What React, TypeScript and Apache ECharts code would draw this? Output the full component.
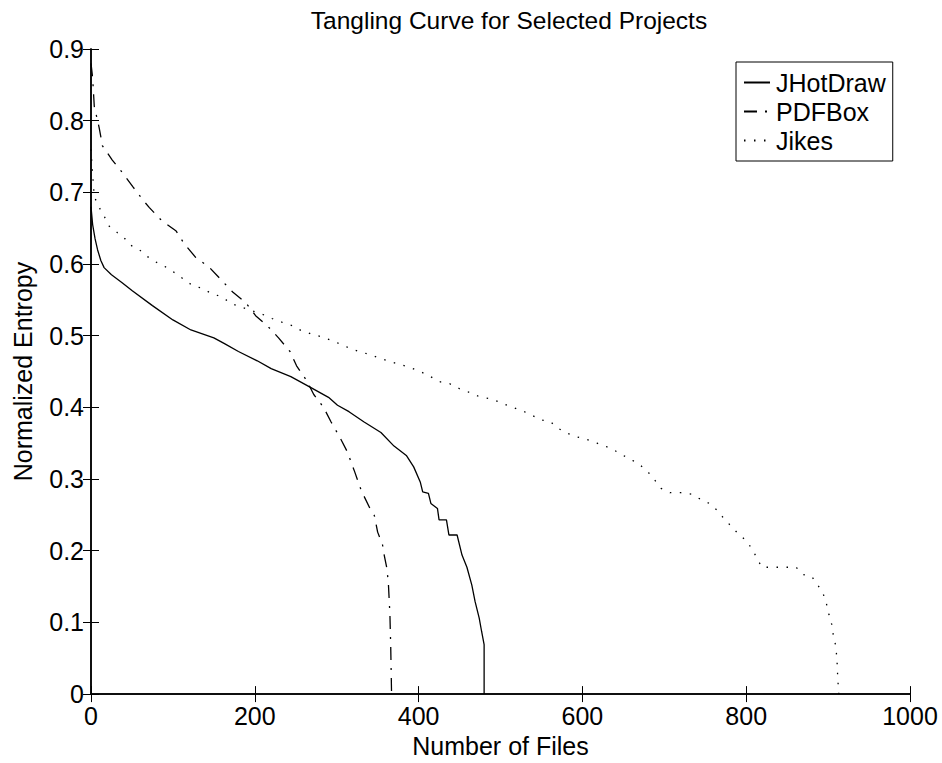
import React, { useEffect, useRef } from "react";
import * as echarts from "echarts";

const seriesNames = ["JHotDraw", "PDFBox", "Jikes"];

const jhotdraw: number[][] = [
  [0, 0.68], [2, 0.655], [5, 0.635], [8, 0.62], [12, 0.605], [16, 0.595], [25, 0.585],
  [38, 0.574], [50, 0.563], [75, 0.542], [100, 0.522], [122, 0.508], [150, 0.497],
  [163, 0.489], [180, 0.478], [203, 0.465], [220, 0.454], [244, 0.443], [268, 0.428],
  [290, 0.414], [301, 0.403], [315, 0.394], [333, 0.38], [354, 0.365], [370, 0.346],
  [385, 0.333], [394, 0.317], [402, 0.296], [405, 0.282], [412, 0.28], [415, 0.266],
  [423, 0.259], [425, 0.243], [434, 0.243], [437, 0.222], [447, 0.222], [453, 0.194],
  [459, 0.177], [465, 0.152], [469, 0.129], [474, 0.106], [477, 0.087], [480, 0.069],
  [480, 0],
];

const pdfbox: number[][] = [
  [0, 0.88], [2, 0.86], [4, 0.82], [10, 0.79], [14, 0.765], [26, 0.745], [38, 0.728],
  [51, 0.708], [63, 0.69], [71, 0.679], [86, 0.661], [104, 0.646], [114, 0.628],
  [128, 0.609], [144, 0.596], [158, 0.579], [173, 0.561], [189, 0.546], [201, 0.528],
  [216, 0.513], [229, 0.497], [243, 0.478], [251, 0.458], [263, 0.438], [272, 0.418],
  [284, 0.4], [293, 0.38], [303, 0.36], [313, 0.338], [322, 0.31], [330, 0.284],
  [341, 0.258], [346, 0.249], [350, 0.226], [356, 0.208], [358, 0.194], [361, 0.177],
  [363, 0.157], [365, 0.11], [366, 0.064], [367, 0],
];

const jikes: number[][] = [
  [0, 0.76], [2, 0.725], [4, 0.694], [10, 0.679], [16, 0.667], [22, 0.653], [32, 0.644],
  [39, 0.639], [47, 0.627], [59, 0.62], [68, 0.611], [79, 0.603], [91, 0.596],
  [102, 0.588], [113, 0.579], [124, 0.57], [136, 0.566], [147, 0.559], [160, 0.554],
  [171, 0.545], [183, 0.54], [196, 0.535], [209, 0.53], [221, 0.524], [233, 0.519],
  [246, 0.514], [257, 0.507], [270, 0.502], [283, 0.498], [295, 0.493], [307, 0.487],
  [319, 0.481], [331, 0.477], [352, 0.469], [365, 0.464], [377, 0.46], [389, 0.456],
  [402, 0.45], [413, 0.444], [425, 0.436], [438, 0.433], [450, 0.426], [462, 0.421],
  [474, 0.415], [488, 0.412], [500, 0.407], [512, 0.401], [525, 0.396], [537, 0.39],
  [548, 0.383], [561, 0.38], [570, 0.371], [581, 0.364], [593, 0.359], [606, 0.355],
  [618, 0.35], [630, 0.345], [638, 0.341], [648, 0.334], [660, 0.327], [671, 0.319],
  [680, 0.31], [688, 0.299], [696, 0.287], [707, 0.281], [720, 0.281], [733, 0.279],
  [744, 0.272], [755, 0.266], [764, 0.257], [772, 0.246], [781, 0.235], [790, 0.224],
  [799, 0.215], [807, 0.203], [813, 0.19], [819, 0.177], [833, 0.177], [848, 0.177],
  [861, 0.177], [869, 0.167], [880, 0.164], [887, 0.153], [894, 0.14], [898, 0.126],
  [901, 0.111], [904.5, 0.097], [906.5, 0.081], [909.4, 0.067], [910.6, 0.051],
  [911.4, 0.036], [911.7, 0.021], [913, 0.005], [913, 0],
];

const xMin = 0, xMax = 1000, xStep = 200;
const yMin = 0, yMax = 0.9, yStep = 0.1;

const FONT = "'Liberation Sans', Arial, Helvetica, sans-serif";
const FS = 25;

export default function App() {
  const ref = useRef<HTMLDivElement>(null);
  useEffect(() => {
    if (!ref.current) return;
    const chart = echarts.init(ref.current, undefined, { renderer: "svg" });
    const axisLine = { show: true, lineStyle: { color: "#000", width: 1.5 } };
    const tick = { show: true, inside: true, length: 8, lineStyle: { color: "#000", width: 1 } };
    chart.setOption({
      animation: false,
      backgroundColor: "#fff",
      textStyle: { fontFamily: FONT },
      title: {
        text: "Tangling Curve for Selected Projects",
        left: 504, top: 3, textAlign: "center",
        textStyle: { fontFamily: FONT, fontSize: 24.5, fontWeight: "normal", color: "#000" },
      },
      legend: {
        orient: "vertical", left: 736, top: 62,
        padding: [8, 7, 8, 7],
        itemWidth: 26, itemHeight: 20, itemGap: 4,
        backgroundColor: "#fff",
        borderColor: "#000", borderWidth: 1, borderRadius: 0,
        itemStyle: { opacity: 0 },
        textStyle: { fontFamily: FONT, fontSize: FS, color: "#000", padding: [0, 0, 0, 1] },
        data: seriesNames,
      },
      grid: { left: 91, right: 32, top: 49, bottom: 67, containLabel: false },
      xAxis: [
        {
          type: "value", min: xMin, max: xMax, interval: xStep, position: "bottom",
          name: "Number of Files", nameLocation: "middle", nameGap: 38,
          nameTextStyle: { fontFamily: FONT, fontSize: FS, color: "#000" },
          axisLine, axisTick: tick, splitLine: { show: false },
          axisLabel: { color: "#000", fontFamily: FONT, fontSize: FS, margin: 9, formatter: (v: number) => String(v) },
        },
        {
          type: "value", min: xMin, max: xMax, interval: xStep, position: "top",
          axisLine, axisTick: tick, splitLine: { show: false }, axisLabel: { show: false },
        },
      ],
      yAxis: [
        {
          type: "value", min: yMin, max: yMax, interval: yStep, position: "left",
          name: "Normalized Entropy", nameLocation: "middle", nameGap: 56,
          nameTextStyle: { fontFamily: FONT, fontSize: FS, color: "#000" },
          axisLine, axisTick: tick, splitLine: { show: false },
          axisLabel: { color: "#000", fontFamily: FONT, fontSize: FS, margin: 7, formatter: (v: number) => String(Math.round(v * 10) / 10) },
        },
        {
          type: "value", min: yMin, max: yMax, interval: yStep, position: "right",
          axisLine, axisTick: tick, splitLine: { show: false }, axisLabel: { show: false },
        },
      ],
      series: [
        {
          name: seriesNames[0], type: "line", data: jhotdraw, symbol: "none",
          lineStyle: { color: "#000", width: 1.3, type: "solid" },
          itemStyle: { color: "#000" },
        },
        {
          name: seriesNames[1], type: "line", data: pdfbox, symbol: "none",
          lineStyle: { color: "#000", width: 1.3, type: [13, 8, 2, 8] },
          itemStyle: { color: "#000" },
        },
        {
          name: seriesNames[2], type: "line", data: jikes, symbol: "none",
          lineStyle: { color: "#000", width: 1.3, type: [1.5, 8.5] },
          itemStyle: { color: "#000" },
        },
      ],
    });
    return () => chart.dispose();
  }, []);
  return <div ref={ref} style={{ width: 942, height: 763, position: "absolute", left: 0, top: 0 }} />;
}
